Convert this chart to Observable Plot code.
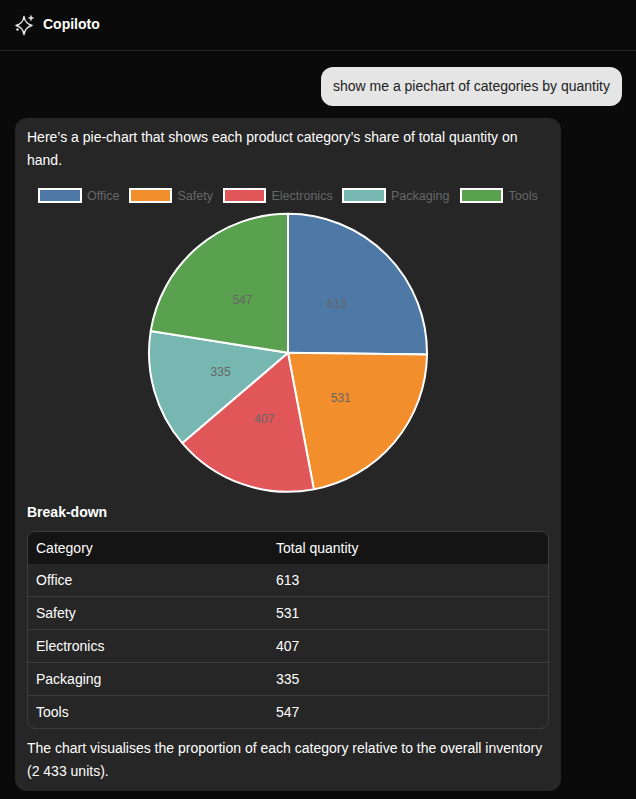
<!DOCTYPE html>
<html>
<head>
<meta charset="utf-8">
<script src="https://cdn.jsdelivr.net/npm/d3@7"></script>
<script src="https://cdn.jsdelivr.net/npm/@observablehq/plot@0.6"></script>
<style>
html,body{margin:0;padding:0;background:#0a0a0a;width:636px;height:799px;overflow:hidden;font-family:"Liberation Sans",Arial,sans-serif;color:#fff;font-size:14px}
.abs{position:absolute}
#hdr{left:0;top:0;width:636px;height:50px;border-bottom:1px solid #262626}
#brand{left:43px;top:16px;font-weight:700;line-height:17px}
#icon{left:15px;top:14px}
#bubble{left:321px;top:67px;width:301px;height:39px;background:#e5e5e5;border-radius:12px;color:#222;line-height:39px;text-align:center}
#card{left:15px;top:118px;width:546px;height:673px;background:#262626;border-radius:12px}
.p{left:27px;width:510px;line-height:23px}
#chart{left:28px;top:210px}
#chart svg{display:block;background:transparent;overflow:visible}
.lg{top:188px;height:15px;display:flex;align-items:center;color:#666;font-size:12.5px;white-space:nowrap}
.lg i{display:block;box-sizing:border-box;width:43.5px;height:15px;border:2px solid #fff;margin-right:5.5px}
#tbl{left:27px;top:531px;width:520px;height:196px;border:1px solid #3d3d3d;border-radius:8px;overflow:hidden}
.row{position:relative;height:32px;line-height:32px;border-bottom:1px solid #3d3d3d}
.row:last-child{border-bottom:0}
.row.head{background:#141414;border-bottom:0}
.row span{position:absolute;left:8px}
.row span+span{left:248px}
</style>
</head>
<body>
<div class="abs" id="hdr"></div>
<svg class="abs" id="icon" width="22" height="22" viewBox="0 0 22 22" fill="none" stroke="#e8e8e8" stroke-width="1.5" stroke-linejoin="round">
<path d="M9 2.5 C9.8 7.5 11.5 10 17 11.5 C11.5 13 9.8 15.5 9 20.5 C8.2 15.5 6.5 13 1 11.5 C6.5 10 8.2 7.5 9 2.5 Z"/>
<path d="M16 1.5V6.5M13.5 4H18.5" stroke-width="1.5"/>
<circle cx="2.5" cy="15.5" r="1.2" fill="#e8e8e8" stroke="none"/>
</svg>
<div class="abs" id="brand">Copiloto</div>
<div class="abs" id="bubble">show me a piechart of categories by quantity</div>
<div class="abs" id="card"></div>
<div class="abs p" style="top:126px">Here’s a pie-chart that shows each product category’s share of total quantity on hand.</div>
<div id="legend"></div>
<div class="abs" id="chart"></div>
<div class="abs" style="left:27px;top:504px;font-weight:700;line-height:16px">Break-down</div>
<div class="abs" id="tbl"></div>
<div class="abs p" style="top:737px;width:520px">The chart visualises the proportion of each category relative to the overall inventory (2 433 units).</div>
<script>
const categories = ["Office", "Safety", "Electronics", "Packaging", "Tools"];
const quantities = [613, 531, 407, 335, 547];
const colors = ["#4e79a7", "#f28e2c", "#e15759", "#76b7b2", "#59a14f"];
const legendLefts = [38, 128.5, 222.5, 342, 459.5];
const tableHead = ["Category", "Total quantity"];

const arcs = d3.pie().sort(null)(quantities);
const slices = categories.map((category, i) => {
  const mid = (arcs[i].startAngle + arcs[i].endAngle) / 2;
  return {category, quantity: quantities[i], startAngle: arcs[i].startAngle, endAngle: arcs[i].endAngle,
          labelX: 0.5 * Math.sin(mid), labelY: 0.5 * Math.cos(mid)};
});

const chart = Plot.plot({
  width: 520, height: 284,
  margin: 0,
  style: {background: "transparent"},
  x: {domain: [-1, 1], range: [121, 399], axis: null},
  y: {domain: [-1, 1], range: [281.8, 3.8], axis: null},
  color: {domain: categories, range: colors},
  marks: [
    Plot.dot(slices, {
      x: () => 0, y: () => 0, fill: "category",
      render(index, scales, values) {
        const cx = scales.x(0), cy = scales.y(0), r = scales.x(1) - scales.x(0);
        const arc = d3.arc().innerRadius(0).outerRadius(r);
        const g = d3.create("svg:g").attr("aria-label", "pie");
        for (const i of index) {
          g.append("path")
            .attr("transform", `translate(${cx},${cy})`)
            .attr("d", arc(slices[i]))
            .attr("fill", values.fill[i])
            .attr("stroke", "#fff")
            .attr("stroke-width", 2)
            .attr("stroke-linejoin", "bevel");
        }
        return g.node();
      }
    }),
    Plot.text(slices, {
      x: "labelX", y: "labelY", text: "quantity", dx: -1,
      fill: "#666", fontSize: 12, fontFamily: "Liberation Sans"
    })
  ]
});
document.getElementById("chart").append(chart);

const legend = document.getElementById("legend");
categories.forEach((c, i) => {
  const el = document.createElement("div");
  el.className = "abs lg";
  el.style.left = legendLefts[i] + "px";
  el.innerHTML = `<i style="background:${colors[i]}"></i>${c}`;
  legend.append(el);
});

const tbl = document.getElementById("tbl");
const addRow = (a, b, cls) => {
  const r = document.createElement("div");
  r.className = "row" + (cls ? " " + cls : "");
  r.innerHTML = `<span>${a}</span><span>${b}</span>`;
  tbl.append(r);
};
addRow(tableHead[0], tableHead[1], "head");
categories.forEach((c, i) => addRow(c, quantities[i]));
</script>
</body>
</html>
